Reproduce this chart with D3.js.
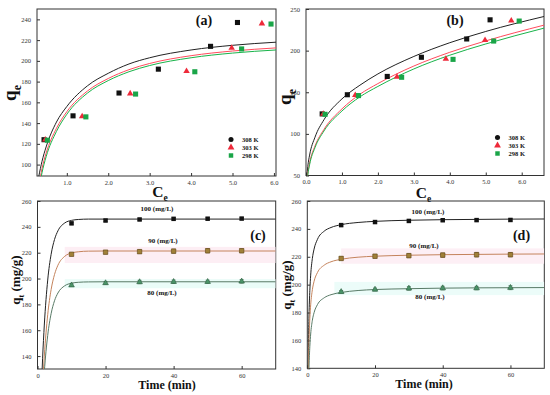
<!DOCTYPE html>
<html>
<head>
<meta charset="utf-8">
<script src="https://cdn.jsdelivr.net/npm/d3@7"></script>
<style>
body { margin: 0; background: #fff; }
svg { display: block; font-family: "Liberation Serif", "Times New Roman", serif; }
</style>
</head>
<body>
<svg width="550" height="395"></svg>
<script>
// isotherm data (same points in a and b)
var ce308 = [0.45, 1.15, 2.26, 3.21, 4.47, 5.12];
var qe308 = [124, 147, 169, 192, 214, 237];
var ce303 = [0.48, 1.37, 2.53, 3.89, 4.98, 5.71];
var qe303 = [124, 146.5, 168.5, 190, 212.5, 236];
var ce298 = [0.53, 1.46, 2.66, 4.09, 5.22, 5.93];
var qe298 = [123.5, 146, 168, 189.5, 211.5, 235.5];
var tempLabels = ["308 K", "303 K", "298 K"];

// fitted curves
var langX = [0.25, 0.325, 0.4, 0.5, 0.75, 1, 1.5, 2, 2.5, 3, 4, 5, 6.05];
var lang308 = [73, 89, 103, 117, 141, 156, 176, 188, 197, 203, 210.5, 215, 218];
var lang303 = [62, 80, 96, 111, 135, 151, 171, 183, 191.5, 197.5, 205, 209.5, 212.5];
var lang298 = [58, 76, 92, 107.5, 132, 148.5, 169, 181, 189.5, 195.5, 203, 207.5, 210.5];

// fitted curves
var freX = [0.02, 0.05, 0.1, 0.25, 0.5, 1, 1.5, 2, 3, 4, 5, 6.62];
var fre308 = [47, 61, 74.5, 96, 117, 142, 158.5, 172, 193, 209.5, 223, 241];
var fre303 = [40, 52.4, 65, 85.4, 105.4, 130, 147.6, 160.4, 181.5, 198, 211.7, 230.6];
var fre298 = [38, 50.5, 63, 83.5, 103.5, 127.5, 144.5, 157, 178, 194.5, 208, 227];

// kinetics data
var time = [10, 20, 30, 40, 50, 60];
var qt100 = [242.7, 244.9, 245.7, 246.2, 246.3, 246.4];
var qt90 = [218.8, 220.4, 220.8, 221.2, 221.5, 221.5];
var qt80 = [194.8, 196.5, 197.3, 197.5, 197.5, 197.8];
var err100 = [0.8, 0.8, 0.8, 0.8, 0.8, 0.8];
var err90 = [1.2, 1.3, 1.4, 1.5, 1.6, 1.5];
var err80 = [1.0, 1.0, 1.3, 1.3, 1.2, 1.4];
var concLabels = ["100 (mg/L)", "90 (mg/L)", "80 (mg/L)"];

// fitted curves
var pfoT = [1, 1.5, 2, 3, 4, 5, 6, 8, 10, 12, 15, 20, 30, 70];
var pfo100 = [104, 138.3, 164, 198.8, 218.7, 230.2, 236.9, 243, 245, 245.7, 246, 246, 246, 246];
var pfo90 = [87.1, 116.8, 139.9, 172, 191.4, 203.1, 210.3, 217.2, 219.8, 220.7, 221.2, 221.3, 221.3, 221.3];
var pfo80 = [80.1, 107, 127.7, 156, 172.8, 182.8, 188.8, 194.4, 196.4, 197.1, 197.4, 197.5, 197.5, 197.5];

// fitted curves
var psoT = [0.2, 0.35, 0.5, 0.75, 1, 1.5, 2, 3, 5, 7, 10, 15, 20, 30, 40, 50, 60, 70];
var pso100 = [124.5, 158.3, 177.5, 196, 206.8, 218.9, 225.5, 232.5, 238.4, 241, 243, 244.6, 245.4, 246.2, 246.6, 246.8, 247, 247.1];
var pso90 = [111.3, 141.7, 159, 175.7, 185.5, 196.4, 202.4, 208.7, 214, 216.4, 218.2, 219.7, 220.4, 221.1, 221.5, 221.7, 221.9, 222];
var pso80 = [97.7, 124.9, 140.5, 155.7, 164.6, 174.5, 179.9, 185.7, 190.6, 192.8, 194.4, 195.8, 196.5, 197.1, 197.5, 197.7, 197.8, 197.9];

var svg = d3.select("svg");
var clipCount = 0;

function makePanel(box, xDomain, yDomain, xTicks, yTicks) {
    var x = d3.scaleLinear().domain(xDomain).range([box[0], box[2]]);
    var y = d3.scaleLinear().domain(yDomain).range([box[3], box[1]]);
    var g = svg.append("g");
    clipCount++;
    var id = "clip" + clipCount;
    svg.append("clipPath").attr("id", id)
        .append("rect")
        .attr("x", box[0]).attr("y", box[1])
        .attr("width", box[2] - box[0]).attr("height", box[3] - box[1]);

    var xa = g.append("g")
        .attr("transform", "translate(0," + box[3] + ")")
        .call(d3.axisBottom(x).tickValues(xTicks).tickSizeInner(-3).tickSizeOuter(0).tickPadding(4));
    var ya = g.append("g")
        .attr("transform", "translate(" + box[0] + ",0)")
        .call(d3.axisLeft(y).tickValues(yTicks).tickSizeInner(-3).tickSizeOuter(0).tickPadding(6));
    [xa, ya].forEach(function (a) {
        a.select(".domain").remove();
        a.selectAll("line").attr("stroke", "#333");
        a.selectAll("text").attr("font-size", "6.5px").attr("fill", "#333")
            .attr("font-family", "Liberation Serif, serif");
    });
    g.append("rect")
        .attr("x", box[0]).attr("y", box[1])
        .attr("width", box[2] - box[0]).attr("height", box[3] - box[1])
        .attr("fill", "none").attr("stroke", "#333").attr("stroke-width", 1);
    var plot = g.append("g").attr("clip-path", "url(#" + id + ")");
    return { g: g, plot: plot, x: x, y: y };
}

function drawCurve(p, xs, ys, color) {
    var pts = xs.map(function (d, i) { return [d, ys[i]]; });
    p.plot.append("path")
        .datum(pts)
        .attr("fill", "none")
        .attr("stroke", color)
        .attr("stroke-width", 1)
        .attr("d", d3.line()
            .x(function (d) { return p.x(d[0]); })
            .y(function (d) { return p.y(d[1]); })
            .curve(d3.curveMonotoneX));
}

function drawMarks(p, xs, ys, shape, color, size, stroke) {
    var sym = d3.symbol().type(shape).size(size);
    p.g.selectAll(null)
        .data(xs)
        .enter()
        .append("path")
        .attr("d", sym)
        .attr("transform", function (d, i) {
            return "translate(" + p.x(d) + "," + p.y(ys[i]) + ")";
        })
        .attr("fill", color)
        .attr("stroke", stroke || "none")
        .attr("stroke-width", 0.6);
}

function drawErr(p, xs, ys, es, color) {
    xs.forEach(function (d, i) {
        var cx = p.x(d);
        var y1 = p.y(ys[i] - es[i]);
        var y2 = p.y(ys[i] + es[i]);
        p.g.append("line").attr("x1", cx).attr("x2", cx).attr("y1", y1).attr("y2", y2)
            .attr("stroke", color).attr("stroke-width", 0.7);
        [y1, y2].forEach(function (yy) {
            p.g.append("line").attr("x1", cx - 2).attr("x2", cx + 2).attr("y1", yy).attr("y2", yy)
                .attr("stroke", color).attr("stroke-width", 0.7);
        });
    });
}

function subLabel(x, y, main, sub, size, rotate) {
    var t = svg.append("text")
        .attr("x", x).attr("y", y)
        .attr("text-anchor", "middle")
        .attr("font-weight", "bold")
        .attr("font-size", size + "px")
        .attr("fill", "#111");
    if (rotate) {
        t.attr("transform", "rotate(-90," + x + "," + y + ")");
    }
    t.append("tspan").text(main);
    t.append("tspan").attr("font-size", (size * 0.62) + "px").attr("dy", size * 0.28).text(sub[0]);
    if (sub[1]) {
        t.append("tspan").attr("dy", -size * 0.28).text(sub[1]);
    }
}

function panelTag(x, y, s) {
    svg.append("text").attr("x", x).attr("y", y)
        .attr("text-anchor", "middle")
        .attr("font-weight", "bold").attr("font-size", "14px")
        .attr("fill", "#111").text(s);
}

var isoColors = ["#111111", "#ee2a3a", "#1aa548"];
var curveColors = ["#222222", "#ff4a5c", "#19b34a"];

function legend(lx, ly) {
    var shapes = [d3.symbolCircle, d3.symbolTriangle, d3.symbolSquare];
    tempLabels.forEach(function (s, i) {
        svg.append("path")
            .attr("d", d3.symbol().type(shapes[i]).size(20))
            .attr("transform", "translate(" + lx + "," + (ly + i * 8) + ")")
            .attr("fill", isoColors[i]);
        svg.append("text")
            .attr("x", lx + 11).attr("y", ly + i * 8 + 2.3)
            .attr("font-size", "6.5px").attr("font-weight", "bold")
            .attr("fill", "#111").text(s);
    });
}

// (a)
var pa = makePanel([37, 9, 276, 176], [0.28, 6.05], [89, 250], [1, 2, 3, 4, 5, 6], [100, 120, 140, 160, 180, 200, 220, 240]);
drawCurve(pa, langX, lang308, curveColors[0]);
drawCurve(pa, langX, lang303, curveColors[1]);
drawCurve(pa, langX, lang298, curveColors[2]);
drawMarks(pa, ce308, qe308, d3.symbolSquare, isoColors[0], 26);
drawMarks(pa, ce303, qe303, d3.symbolTriangle, isoColors[1], 18);
drawMarks(pa, ce298, qe298, d3.symbolSquare, isoColors[2], 26);
legend(231, 139.5);
panelTag(204, 25, "(a)");
subLabel(160, 197, "C", ["e"], 15.5, false);
subLabel(16, 93, "q", ["e"], 19, true);

// (b)
var pb = makePanel([306, 9, 544, 175.5], [0, 6.62], [50, 250], [0, 1, 2, 3, 4, 5, 6], [50, 100, 150, 200, 250]);
drawCurve(pb, freX, fre308, curveColors[0]);
drawCurve(pb, freX, fre303, curveColors[1]);
drawCurve(pb, freX, fre298, curveColors[2]);
drawMarks(pb, ce308, qe308, d3.symbolSquare, isoColors[0], 26);
drawMarks(pb, ce303, qe303, d3.symbolTriangle, isoColors[1], 18);
drawMarks(pb, ce298, qe298, d3.symbolSquare, isoColors[2], 26);
legend(497.5, 137.5);
panelTag(455, 25, "(b)");
subLabel(423.5, 197.5, "C", ["e"], 15.5, false);
subLabel(291, 97, "q", ["e"], 19, true);

// (c) and (d)
function kinetics(p, bands, tx, c100, c90, c80) {
    bands.forEach(function (b) {
        p.plot.append("rect")
            .attr("x", p.x(b[0])).attr("width", p.x(b[1]) - p.x(b[0]))
            .attr("y", p.y(b[3])).attr("height", p.y(b[2]) - p.y(b[3]))
            .attr("fill", b[4]);
    });
    drawCurve(p, tx, c100, "#222222");
    drawCurve(p, tx, c90, "#c4835c");
    drawCurve(p, tx, c80, "#587a66");
    drawErr(p, time, qt100, err100, "#333");
    drawErr(p, time, qt90, err90, "#6b5020");
    drawErr(p, time, qt80, err80, "#3c6a4c");
    drawMarks(p, time, qt100, d3.symbolSquare, "#111", 20);
    drawMarks(p, time, qt90, d3.symbolSquare, "#a08038", 20, "#5e4418");
    drawMarks(p, time, qt80, d3.symbolTriangle, "#4a9468", 14, "#2e5e40");
}

var pc = makePanel([37.5, 201, 275.7, 369], [0, 70], [130, 260], [0, 20, 40, 60], [140, 160, 180, 200, 220, 240, 260]);
kinetics(pc, [[8, 70, 212, 224.5, "#fdeef4"], [8, 70, 192.5, 199.5, "#eafcf8"]], pfoT, pfo100, pfo90, pfo80);
panelTag(258, 240, "(c)");
subLabel(20, 280, "q", ["t", " (mg/g)"], 13, true);

var pd = makePanel([307.3, 201, 544.3, 368.3], [0, 70], [140, 260], [0, 20, 40, 60], [140, 160, 180, 200, 220, 240, 260]);
kinetics(pd, [[10, 70, 215, 226, "#fdeff5"], [8, 70, 192.5, 202, "#ecfcf9"]], psoT, pso100, pso90, pso80);
panelTag(521.5, 240, "(d)");
subLabel(291, 285, "q", ["t", " (mg/g)"], 13, true);

// concentration labels and x titles
function concText(x, y, s) {
    svg.append("text").attr("x", x).attr("y", y)
        .attr("text-anchor", "middle")
        .attr("font-size", "7px").attr("font-weight", "bold")
        .attr("fill", "#111").text(s);
}
concText(157, 210.5, concLabels[0]);
concText(163, 242.5, concLabels[1]);
concText(162, 295, concLabels[2]);
concText(428, 214, concLabels[0]);
concText(424, 247.5, concLabels[1]);
concText(430, 299, concLabels[2]);

svg.append("text").attr("x", 167).attr("y", 389)
    .attr("text-anchor", "middle").attr("font-size", "12px").attr("font-weight", "bold")
    .attr("fill", "#111").text("Time (min)");
svg.append("text").attr("x", 424).attr("y", 388)
    .attr("text-anchor", "middle").attr("font-size", "12px").attr("font-weight", "bold")
    .attr("fill", "#111").text("Time (min)");
</script>
</body>
</html>
